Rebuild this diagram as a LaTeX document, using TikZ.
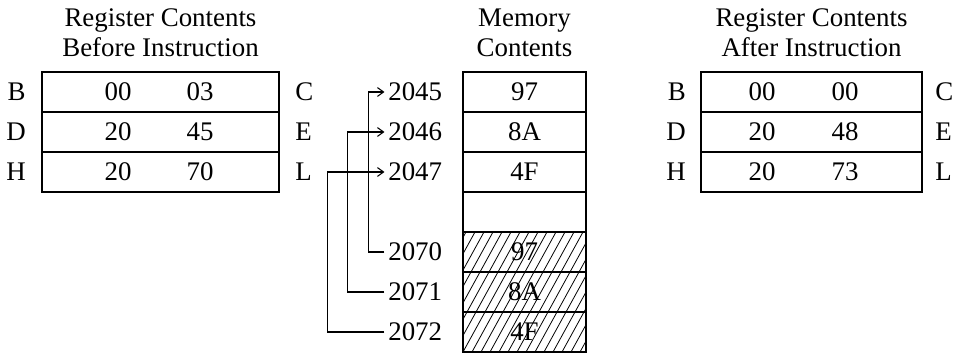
\documentclass[tikz,border=0pt]{standalone}
\usepackage{fontspec}
\setmainfont{Liberation Serif}
\usetikzlibrary{positioning,arrows.meta}

\begin{document}
\begin{tikzpicture}[x=.2mm,y=-.2mm,
    every node/.style={font=\fontsize{15.3}{17}\selectfont,inner sep=0pt},
    title/.style={align=center,anchor=south},
    regrow/.style={draw,line width=1.1pt,minimum height=8mm},
    cell/.style={draw,line width=1.1pt,minimum width=24.6mm,minimum height=8mm},
    addr/.style={anchor=east,inner xsep=2pt},
    conn/.style={line width=.6pt},
    hatch/.style={line width=.45pt}]
  \useasboundingbox (0,0) rectangle (959,353);

  % before instruction
  \node[title] (tbefore) at (160.5,57) {Register Contents\\Before Instruction};
  \node[regrow,minimum width=47.4mm] (bBC) at (160.5,92) {};
  \node[regrow,minimum width=47.4mm] (bDE) at (160.5,132) {};
  \node[regrow,minimum width=47.4mm] (bHL) at (160.5,172) {};
  \node[left=3mm of bBC] (bB) {B};
  \node[left=3mm of bDE] (bD) {D};
  \node[left=3mm of bHL] (bH) {H};
  \node[right=3mm of bBC] (bC) {C};
  \node[right=3mm of bDE] (bE) {E};
  \node[right=3mm of bHL] (bL) {L};
  \node (bv1) at (118,92) {00};  \node (bv2) at (200,92) {03};
  \node (bv3) at (118,132) {20}; \node (bv4) at (200,132) {45};
  \node (bv5) at (118,172) {20}; \node (bv6) at (200,172) {70};

  % memory
  \node[title] (tmem) at (524.5,57) {Memory\\Contents};
  \begin{scope}
    \clip (463,232) rectangle (586,352);
    \foreach \i in {-8,...,14}
      \draw[hatch] (463+\i*9,352) -- ++(66,-120);
  \end{scope}
  \foreach \y/\val/\nm in {92/97/m45,132/8A/m46,172/4F/m47,212//mfree,252/97/m70,292/8A/m71,332/4F/m72}
    \node[cell] (\nm) at (524.5,\y) {\val};
  \node[addr] (a2045) at (446,92) {2045};
  \node[addr] (a2046) at (446,132) {2046};
  \node[addr] (a2047) at (446,172) {2047};
  \node[addr] (a2070) at (446,252) {2070};
  \node[addr] (a2071) at (446,292) {2071};
  \node[addr] (a2072) at (446,332) {2072};
  \draw[conn,-{Straight Barb[length=3.5pt,width=5pt]}] (a2070.west) -- ++(-16,0) |- (a2045.west);
  \draw[conn,-{Straight Barb[length=3.5pt,width=5pt]}] (a2071.west) -- ++(-37,0) |- (a2046.west);
  \draw[conn,-{Straight Barb[length=3.5pt,width=5pt]}] (a2072.west) -- ++(-57,0) |- (a2047.west);

  % after instruction
  \node[title] (tafter) at (811.5,57) {Register Contents\\After Instruction};
  \node[regrow,minimum width=44.2mm] (aBC) at (811.5,92) {};
  \node[regrow,minimum width=44.2mm] (aDE) at (811.5,132) {};
  \node[regrow,minimum width=44.2mm] (aHL) at (811.5,172) {};
  \node[left=2.8mm of aBC] (aB) {B};
  \node[left=2.8mm of aDE] (aD) {D};
  \node[left=2.8mm of aHL] (aH) {H};
  \node[right=2.4mm of aBC] (aC) {C};
  \node[right=2.4mm of aDE] (aE) {E};
  \node[right=2.4mm of aHL] (aL) {L};
  \node (av1) at (762,92) {00};  \node (av2) at (845,92) {00};
  \node (av3) at (762,132) {20}; \node (av4) at (845,132) {48};
  \node (av5) at (762,172) {20}; \node (av6) at (845,172) {73};
\end{tikzpicture}
\end{document}
